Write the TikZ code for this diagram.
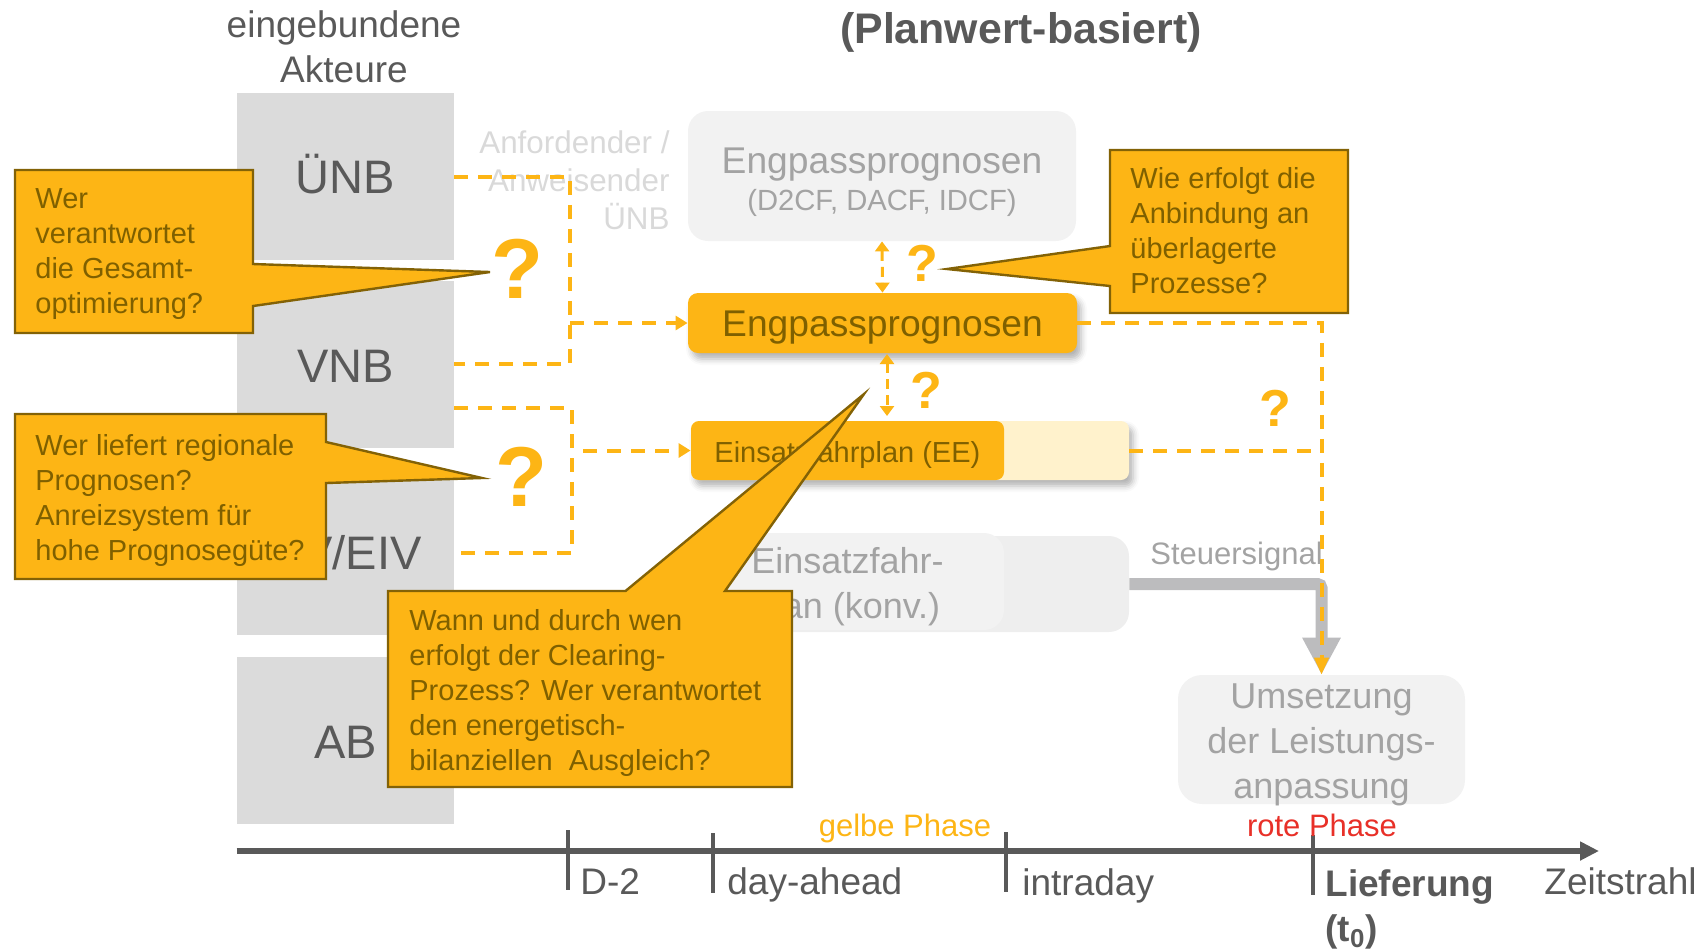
\documentclass[tikz,border=0pt]{standalone}
\usepackage{fontspec}
\setmainfont{Liberation Sans}
\usetikzlibrary{arrows.meta,shadows,shadows.blur}

\definecolor{gold}{RGB}{253,181,21}
\definecolor{goldtext}{RGB}{127,96,0}
\definecolor{goldedge}{RGB}{131,98,6}
\definecolor{actorgray}{RGB}{219,219,219}
\definecolor{inkgray}{RGB}{89,89,89}
\definecolor{mutedtext}{RGB}{163,163,163}
\definecolor{faintgray}{RGB}{217,217,217}
\definecolor{panelgray}{RGB}{242,242,242}
\definecolor{panelgraytwo}{RGB}{238,238,238}
\definecolor{palegold}{RGB}{255,242,204}
\definecolor{signalgray}{RGB}{188,188,190}
\definecolor{phasered}{RGB}{232,48,40}

\newcommand{\pxfont}[2]{\fontsize{#1}{#2}\selectfont}

\tikzset{
  actorbox/.style={fill=actorgray, inner sep=0pt, minimum width=108.5pt, minimum height=83.5pt},
  actorlabel/.style={anchor=base, inner sep=0pt, text=inkgray, font=\pxfont{23.5pt}{28pt}},
  flow/.style={draw=gold, line width=2pt, dash pattern=on 7pt off 5pt},
  flowtip/.style={-{Triangle[length=6pt,width=7pt]}},
  twoway/.style={draw=gold, line width=1.5pt, dash pattern=on 5pt off 3pt,
    {Triangle[length=5pt,width=7pt]}-{Triangle[length=5pt,width=7pt]}},
  callout/.style={fill=gold, draw=goldedge, line width=1.2pt, line join=miter},
  callouttext/.style={anchor=north west, inner sep=0pt, align=left, text=goldtext,
    font=\pxfont{14.5pt}{17.5pt}},
  query/.style={anchor=base, inner sep=0pt, text=gold, font=\bfseries\pxfont{26pt}{26pt}},
  bigquery/.style={anchor=base, inner sep=0pt, text=gold, font=\bfseries\pxfont{42.5pt}{42.5pt}},
  softshadow/.style={blur shadow={shadow xshift=2pt, shadow yshift=-3pt,
    shadow blur radius=3pt, shadow opacity=30}},
  panel/.style={fill=panelgray, inner sep=0pt},
  mutedlabel/.style={inner sep=0pt, text=mutedtext, font=\pxfont{18pt}{22.5pt}, align=center},
  axislabel/.style={anchor=base west, inner sep=0pt, text=inkgray, font=\pxfont{18.5pt}{22.5pt}},
  tick/.style={draw=inkgray, line width=2pt},
}

\begin{document}
\begin{tikzpicture}[x=0.5pt, y=-0.5pt]
\path[use as bounding box] (0,0) rectangle (1707,950);

% headings
\node[anchor=north, inner sep=0pt, align=center, text=inkgray, font=\pxfont{18.5pt}{22.5pt}]
  (actorhead) at (344,10) {eingebundene\\Akteure};
\node[anchor=base, inner sep=0pt, text=inkgray, font=\bfseries\pxfont{21.4pt}{25pt}]
  (title) at (1021,43) {(Planwert-basiert)};

% actor column
\node[actorbox] (uenb) at (345.5,176.5) {};
\node[actorbox] (vnb)  at (345.5,364) {};
\node[actorbox, minimum height=82pt] (eiv) at (345.5,553) {};
\node[actorbox] (ab)   at (345.5,740.5) {};
\node[actorlabel] (uenbtext) at (345.5,193.6) {ÜNB};
\node[actorlabel] (vnbtext)  at (345.5,382) {VNB};
\node[actorlabel, anchor=base east] (eivtext) at (422,569) {BKV/EIV};
\node[actorlabel] (abtext)   at (345.5,758) {AB};

% requesting TSO note
\node[anchor=north east, inner sep=0pt, align=right, text=faintgray, font=\pxfont{15.7pt}{19pt}]
  (requester) at (670,130) {Anfordender /\\Anweisender\\ÜNB};

% process boxes
\node[panel, rounded corners=10pt, minimum width=194pt, minimum height=65pt]
  (gbox) at (882,176) {};
\node[anchor=base, inner sep=0pt, text=mutedtext, font=\pxfont{18.6pt}{22pt}]
  (gboxtitle) at (882,173) {Engpassprognosen};
\node[anchor=base, inner sep=0pt, text=mutedtext, font=\pxfont{14.6pt}{17pt}]
  (gboxsub) at (882,210) {(D2CF, DACF, IDCF)};

\node[fill=gold, rounded corners=5pt, softshadow, inner sep=0pt,
  minimum width=194.5pt, minimum height=30pt, text=goldtext,
  font=\pxfont{18.6pt}{22pt}, text height=13.3pt, text depth=0pt]
  (epo) at (882.5,323) {Engpassprognosen};

\node[fill=palegold, rounded corners=4pt, softshadow, inner sep=0pt,
  minimum width=219pt, minimum height=29.5pt] (eepale) at (910,450.5) {};
\node[fill=gold, rounded corners=4pt, inner sep=0pt,
  minimum width=156.5pt, minimum height=29.5pt] (ee) at (847.5,450.5) {};
\node[anchor=base west, inner sep=0pt, text=goldtext, font=\pxfont{14.5pt}{17.5pt}]
  (eetext) at (714,462) {Einsatzfahrplan (EE)};

\node[fill=panelgraytwo, rounded corners=10pt, inner sep=0pt,
  minimum width=219pt, minimum height=48pt] (konv) at (910,584) {};
\node[panel, rounded corners=10pt, minimum width=156.5pt, minimum height=48.5pt]
  (konvin) at (847.5,581.5) {};
\node[mutedlabel, anchor=north] (konvtext) at (847.5,547) {Einsatzfahr-\\plan (konv.)};

\node[panel, rounded corners=12pt, minimum width=143.5pt, minimum height=64.5pt]
  (ums) at (1321.5,739.5) {};
\node[mutedlabel, anchor=north] (umstext) at (1321.5,683) {Umsetzung\\der Leistungs-\\anpassung};

% control signal
\node[anchor=base west, inner sep=0pt, text=mutedtext, font=\pxfont{15.5pt}{19pt}]
  (signaltext) at (1150,564) {Steuersignal};
\draw[draw=signalgray, line width=6pt, rounded corners=2pt,
  -{Triangle[length=18.5pt,width=18pt]}] (konv.east) -| (ums.north);

% forecast flows
\coordinate (topjoin) at (570,176.5);
\coordinate (topfoot) at (570,364);
\coordinate (topfeed) at (570,323);
\draw[flow] (uenb.east) -- (topjoin) -- (topfoot) -- (vnb.east);
\draw[flow, flowtip] (topfeed) -- (epo.west);

\coordinate (lowstart) at (454,408);
\coordinate (lowjoin) at (572,408);
\coordinate (lowfoot) at (572,553);
\coordinate (lowfeed) at (583,450.5);
\draw[flow] (lowstart) -- (lowjoin) -- (lowfoot) -- (eiv.east);
\draw[flow, flowtip] (lowfeed) -- (ee.west);

\coordinate (rightbend) at (1321.5,323);
\coordinate (rightjoin) at (1321.5,450.5);
\draw[flow, -{Triangle[length=8.5pt,width=7pt]}] (epo.east) -- (rightbend) -- (ums.north);
\draw[flow] (eepale.east) -- (rightjoin);

\draw[twoway] (gbox.south) -- (epo.north);
\coordinate (midup) at (887,354);
\coordinate (middown) at (887,416);
\draw[twoway] (midup) -- (middown);

% timeline
\coordinate (axisstart) at (236.5,851);
\coordinate (axisend) at (1599,851);
\draw[draw=inkgray, line width=3pt, -{Triangle[length=9.5pt,width=9pt]}] (axisstart) -- (axisend);
\coordinate (d2a) at (568,830);     \coordinate (d2b) at (568,890);
\coordinate (daa) at (712.5,833);   \coordinate (dab) at (712.5,893);
\coordinate (ida) at (1006,832);    \coordinate (idb) at (1006,892);
\coordinate (lia) at (1312.5,835);  \coordinate (lib) at (1312.5,895);
\draw[tick] (d2a) -- (d2b);
\draw[tick] (daa) -- (dab);
\draw[tick] (ida) -- (idb);
\draw[tick] (lia) -- (lib);
\node[axislabel] (d2text) at (580,894) {D-2};
\node[axislabel] (datext) at (727,894) {day-ahead};
\node[axislabel] (idtext) at (1022,895) {intraday};
\node[anchor=north west, inner sep=0pt, align=left, text=inkgray,
  font=\bfseries\pxfont{18.5pt}{22.5pt}] (litext) at (1325,869)
  {Lieferung\\(t\textsubscript{0})};
\node[axislabel] (axistext) at (1544,894) {Zeitstrahl};
\node[anchor=base, inner sep=0pt, text=gold, font=\pxfont{15.5pt}{18pt}]
  (yellowphase) at (905,836) {gelbe Phase};
\node[anchor=base, inner sep=0pt, text=phasered, font=\pxfont{15.5pt}{18pt}]
  (redphase) at (1322,836) {rote Phase};

% open questions
\draw[callout] (15,170) -- (253,170) -- (253,264) -- (490,272) -- (253,306)
  -- (253,333) -- (15,333) -- cycle;
\node[callouttext] (q1text) at (35,188) {Wer\\verantwortet\\die Gesamt-\\optimierung?};

\draw[callout] (1110,150) -- (1348,150) -- (1348,313) -- (1110,313) -- (1110,286)
  -- (947,269) -- (1110,246) -- cycle;
\node[callouttext] (q2text) at (1130,167) {Wie erfolgt die\\Anbindung an\\überlagerte\\Prozesse?};

\draw[callout] (388,591) -- (625.5,591) -- (864,394) -- (725,591) -- (792,591)
  -- (792,787) -- (388,787) -- cycle;
\node[callouttext] (q3text) at (409,609)
  {Wann und durch wen\\erfolgt der Clearing-\\Prozess? Wer verantwortet\\den energetisch-\\bilanziellen\ \ Ausgleich?};

\draw[callout] (15,414) -- (326,414) -- (326,442) -- (482,478) -- (326,483)
  -- (326,579) -- (15,579) -- cycle;
\node[callouttext] (q4text) at (35,434) {Wer liefert regionale\\Prognosen?\\Anreizsystem für\\hohe Prognosegüte?};

\node[bigquery] (qa) at (517,298) {?};
\node[bigquery] (qb) at (521,506) {?};
\node[query] (qc) at (922,281.7) {?};
\node[query] (qd) at (926,408) {?};
\node[query] (qe) at (1275,426.7) {?};
\end{tikzpicture}
\end{document}
